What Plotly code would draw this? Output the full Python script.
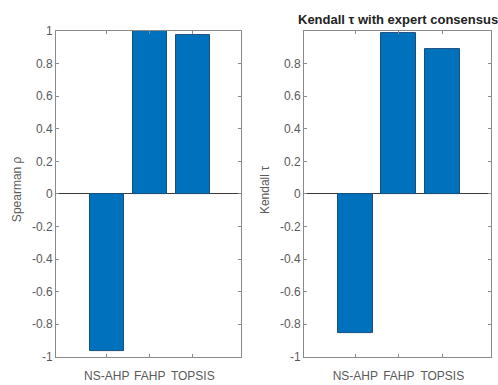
import plotly.graph_objects as go

# Rank-correlation of each method's ranking with the expert consensus
methods = ["NS-AHP", "FAHP", "TOPSIS"]
spearman_rho = [-0.965, 1.0, 0.975]
kendall_tau = [-0.855, 0.99, 0.89]

y_ticks = [-1, -0.8, -0.6, -0.4, -0.2, 0, 0.2, 0.4, 0.6, 0.8, 1]
y_tick_text = ["-1", "-0.8", "-0.6", "-0.4", "-0.2", "0", "0.2", "0.4", "0.6", "0.8", "1"]

W, H = 498, 385
BAR = "#0072BD"
EDGE = "#1a4f7a"
AX = "#8a8a8a"
TXT = "#5a5a5a"
FONT = "Liberation Sans, Arial, sans-serif"

xpos = list(range(len(methods)))

fig = go.Figure()
fig.add_trace(go.Bar(x=xpos, y=spearman_rho, width=0.8, marker=dict(color=BAR, line=dict(color=EDGE, width=1)),
                     xaxis="x", yaxis="y", showlegend=False))
fig.add_trace(go.Bar(x=xpos, y=kendall_tau, width=0.8, marker=dict(color=BAR, line=dict(color=EDGE, width=1)),
                     xaxis="x2", yaxis="y2", showlegend=False))

y_dom = [1 - 363 / H, 1 - 25 / H]
x_rng = [-1.18, 3.12]

common_x = dict(range=x_rng, tickmode="array", tickvals=xpos, ticktext=methods,
                showline=True, linecolor=AX, linewidth=1, mirror="ticks",
                ticks="inside", ticklen=3, tickcolor=AX, showgrid=False, zeroline=False,
                ticklabelstandoff=8,
                tickfont=dict(family=FONT, size=12, color=TXT), fixedrange=True)
common_y = dict(range=[-1, 1], tickmode="array",
                showline=True, linecolor=AX, linewidth=1, mirror="ticks",
                ticks="inside", ticklen=3, tickcolor=AX, showgrid=False,
                zeroline=True, zerolinecolor="#3a3a3a", zerolinewidth=1,
                tickfont=dict(family=FONT, size=12, color=TXT), fixedrange=True)

fig.update_layout(
    width=W, height=H,
    margin=dict(l=0, r=0, t=0, b=0),
    paper_bgcolor="white", plot_bgcolor="white",
    bargap=0,
    xaxis=dict(domain=[56 / W, 241 / W], anchor="y", **common_x),
    yaxis=dict(domain=y_dom, anchor="x", tickvals=y_ticks, ticktext=y_tick_text, **common_y),
    xaxis2=dict(domain=[304 / W, 491 / W], anchor="y2", **common_x),
    yaxis2=dict(domain=y_dom, anchor="x2", tickvals=y_ticks[:-1], ticktext=y_tick_text[:-1], **common_y),
    annotations=[
        dict(text="<b>Kendall τ with expert consensus</b>", xref="paper", yref="paper",
             x=397.5 / W, y=1 - 13 / H, xanchor="center", yanchor="middle", showarrow=False,
             font=dict(family=FONT, size=13, color="#222222")),
        dict(text="Spearman ρ", xref="paper", yref="paper", x=17 / W, y=1 - 189 / H,
             xanchor="center", yanchor="middle", textangle=-90, showarrow=False,
             font=dict(family=FONT, size=12, color=TXT)),
        dict(text="Kendall τ", xref="paper", yref="paper", x=265 / W, y=1 - 190 / H,
             xanchor="center", yanchor="middle", textangle=-90, showarrow=False,
             font=dict(family=FONT, size=12, color=TXT)),
    ],
)

fig.write_html("out.html")
